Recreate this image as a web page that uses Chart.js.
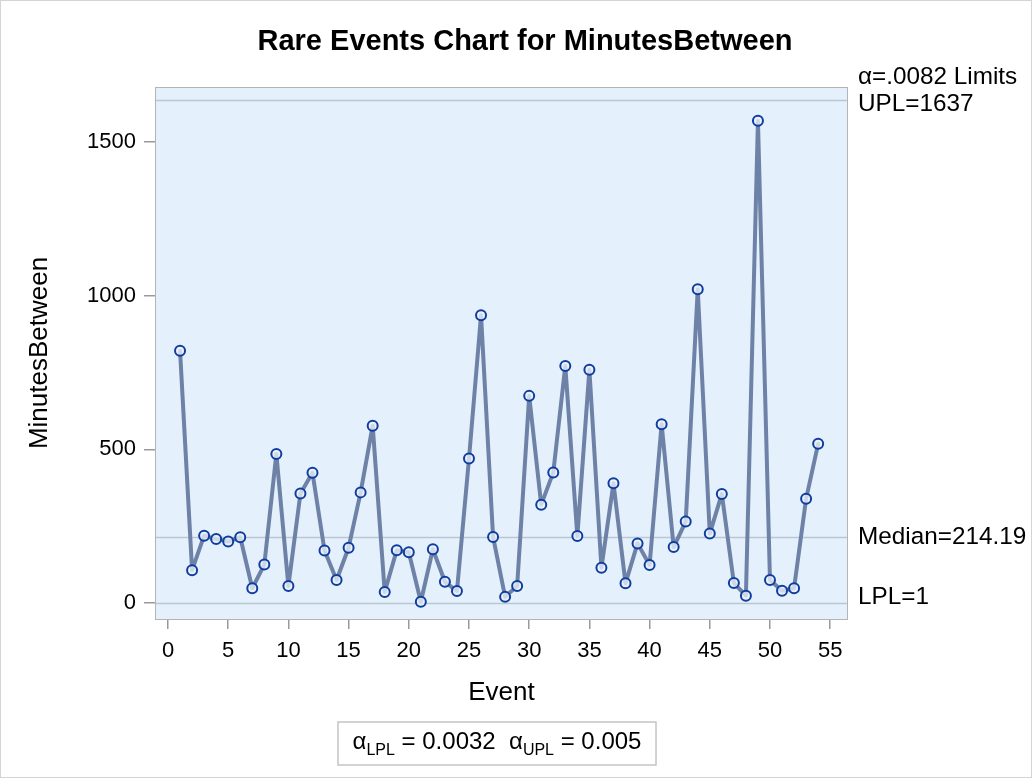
<!DOCTYPE html>
<html>
<head>
<meta charset="utf-8">
<script src="https://cdn.jsdelivr.net/npm/chart.js@4/dist/chart.umd.min.js"></script>
<style>
html,body{margin:0;padding:0;background:#fff;}
#wrap{width:1032px;height:778px;position:relative;}
</style>
</head>
<body>
<div id="wrap"><canvas id="c" width="1032" height="778"></canvas></div>
<script>
const titleText = "Rare Events Chart for MinutesBetween";
const xTitle = "Event";
const yTitle = "MinutesBetween";
const events = Array.from({length: 54}, (_, i) => i + 1);
const minutes = [821,107,219,208,200,214,48,125,485,55,
                 356,424,171,75,180,360,577,36,172,165,
                 4,175,69,39,470,936,215,20,55,674,
                 320,425,771,218,759,115,390,64,194,124,
                 582,182,265,1021,226,355,65,24,1569,75,
                 40,48,339,518];
const xTicks = [0,5,10,15,20,25,30,35,40,45,50,55];
const yTicks = [0,500,1000,1500];
const limitValues = [1637, 214.19, 1];
const limitLabels = ["UPL=1637", "Median=214.19", "LPL=1"];
const limitHeader = "α=.0082 Limits";
const alphaLPL = "0.0032";
const alphaUPL = "0.005";

const FONT = "'Liberation Sans', Arial, sans-serif";

const decor = {
  id: 'decor',
  beforeDatasetsDraw(chart) {
    const {ctx, chartArea: a, scales: {y}} = chart;
    ctx.save();
    ctx.fillStyle = '#E5F0FD';
    ctx.fillRect(a.left, a.top, a.right - a.left, a.bottom - a.top);
    ctx.strokeStyle = '#BCC6D2';
    ctx.lineWidth = 1.5;
    limitValues.forEach(v => {
      const py = Math.round(y.getPixelForValue(v)) + 0.5;
      ctx.beginPath(); ctx.moveTo(a.left, py); ctx.lineTo(a.right, py); ctx.stroke();
    });
    ctx.restore();
  },
  afterDraw(chart) {
    const {ctx, chartArea: a, scales: {y}} = chart;
    const W = chart.width, H = chart.height;
    ctx.save();
    ctx.strokeStyle = '#B4B4B4';
    ctx.lineWidth = 1;
    ctx.strokeRect(a.left + 0.5, a.top + 0.5, a.right - a.left - 1, a.bottom - a.top);
    ctx.strokeStyle = '#D4D4D4';
    ctx.strokeRect(0.5, 0.5, W - 1, H - 1);
    ctx.fillStyle = '#000';
    ctx.textAlign = 'center';
    ctx.textBaseline = 'middle';
    ctx.font = "bold 29px " + FONT;
    ctx.fillText(titleText, 525, 42);
    ctx.font = "26px " + FONT;
    ctx.fillText(xTitle, (a.left + a.right) / 2, 693);
    ctx.save();
    ctx.translate(40, 353);
    ctx.rotate(-Math.PI / 2);
    ctx.fillText(yTitle, 0, 0);
    ctx.restore();
    ctx.font = "24.3px " + FONT;
    ctx.textAlign = 'left';
    const lx = a.right + 10;
    ctx.fillText(limitHeader, lx, 77);
    const offs = [4, 0, -5];
    limitValues.forEach((v, i) => {
      ctx.fillText(limitLabels[i], lx, y.getPixelForValue(v) + offs[i]);
    });
    const bx = 338, by = 722, bw = 318, bh = 43;
    ctx.strokeStyle = '#C4C4C4';
    ctx.lineWidth = 1.5;
    ctx.strokeRect(bx, by, bw, bh);
    const big = "24px " + FONT, small = "16px " + FONT;
    const parts = [
      ["α", big, 0], ["LPL", small, 8], [" = " + alphaLPL + "  α", big, 0],
      ["UPL", small, 8], [" = " + alphaUPL, big, 0]
    ];
    let total = 0;
    parts.forEach(p => { ctx.font = p[1]; total += ctx.measureText(p[0]).width; });
    let x = bx + bw / 2 - total / 2;
    const ty = by + bh / 2 - 1;
    parts.forEach(p => {
      ctx.font = p[1];
      ctx.fillText(p[0], x, ty + p[2]);
      x += ctx.measureText(p[0]).width;
    });
    ctx.restore();
  }
};

new Chart(document.getElementById('c'), {
  type: 'line',
  data: {
    labels: events,
    datasets: [{
      data: events.map((e, i) => ({x: e, y: minutes[i]})),
      borderColor: '#6D82A6',
      borderWidth: 4,
      borderJoinStyle: 'round',
      borderCapStyle: 'round',
      pointRadius: 5,
      pointBorderWidth: 2,
      pointBorderColor: '#0F3D9E',
      pointBackgroundColor: 'rgba(236,243,253,0.75)',
      tension: 0
    }]
  },
  options: {
    responsive: false,
    animation: false,
    layout: {padding: {left: 0, right: 184, top: 87, bottom: 0}},
    plugins: {legend: {display: false}, title: {display: false}, tooltip: {enabled: false}},
    scales: {
      x: {
        type: 'linear',
        min: -1.08,
        max: 56.48,
        afterBuildTicks(s) { s.ticks = xTicks.map(v => ({value: v})); },
        afterFit(s) { s.height = 159; },
        grid: {drawOnChartArea: false, drawTicks: true, tickLength: 10, color: '#9A9A9A', lineWidth: 1.5},
        border: {display: false},
        ticks: {font: {family: FONT, size: 22}, color: '#000', padding: 9, maxRotation: 0, autoSkip: false,
                callback: v => String(v)}
      },
      y: {
        min: -52,
        max: 1679,
        afterBuildTicks(s) { s.ticks = yTicks.map(v => ({value: v})); },
        afterFit(s) { s.width = 155; },
        grid: {drawOnChartArea: false, drawTicks: true, tickLength: 11, color: '#9A9A9A', lineWidth: 1.5},
        border: {display: false},
        ticks: {font: {family: FONT, size: 22}, color: '#000', padding: 8,
                callback: v => String(v)}
      }
    }
  },
  plugins: [decor]
});
</script>
</body>
</html>
